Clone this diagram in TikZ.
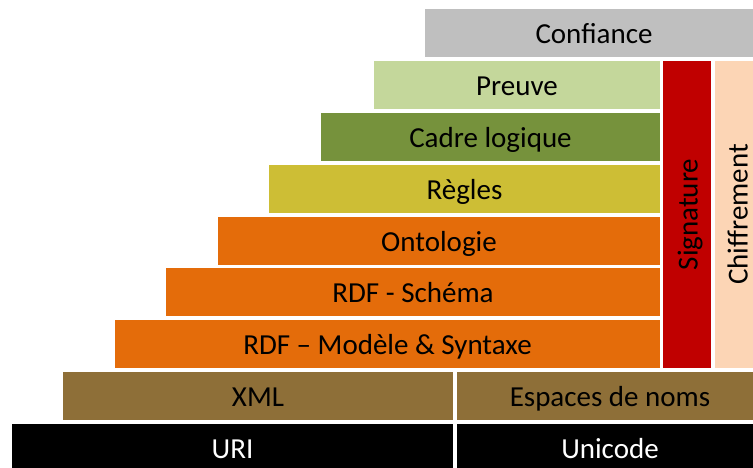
\documentclass[tikz,border=0pt]{standalone}
\usepackage{fontspec}
\setmainfont{Carlito}
\usepackage{tikz}
\usetikzlibrary{positioning}
\definecolor{confiance}{RGB}{191,191,191}
\definecolor{preuve}{RGB}{196,215,155}
\definecolor{logique}{RGB}{118,146,60}
\definecolor{regles}{RGB}{205,190,53}
\definecolor{rdf}{RGB}{228,108,10}
\definecolor{signat}{RGB}{192,0,0}
\definecolor{chiffre}{RGB}{252,213,181}
\definecolor{brun}{RGB}{142,111,56}

\tikzset{
  txt/.style={inner sep=0pt, outer sep=0pt, font=\fontsize{29}{32}\selectfont},
  layer/.style={rectangle, txt, text height=26pt, text depth=5pt,
    anchor=north west, minimum height=48pt},
  side/.style={rectangle, txt, text height=21pt, text depth=0pt,
    rotate=90, minimum width=307pt, minimum height=48pt},
}

\begin{document}
\begin{tikzpicture}[x=1pt,y=-1pt]
  \useasboundingbox (0,0) rectangle (753,468);
  \begin{scope}
    \clip (0,0) rectangle (753,468);
    % stairs
    \node[layer, fill=confiance, minimum width=338pt] (conf) at (425,9) {Confiance};
    \node[layer, fill=preuve, minimum width=286pt] (preuve) at (374,61) {Preuve};
    \node[layer, fill=logique, minimum width=339pt] (cadre) at (321,113) {Cadre logique};
    \node[layer, fill=regles, minimum width=391pt] (regles) at (269,165) {Règles};
    \node[layer, fill=rdf, minimum width=442pt] (onto) at (218,217) {Ontologie};
    \node[layer, fill=rdf, minimum width=494pt] (schema) at (166,268) {RDF - Schéma};
    \node[layer, fill=rdf, minimum width=545pt] (modele) at (115,320) {RDF – Modèle \& Syntaxe};
    % base
    \node[layer, fill=brun, minimum width=390pt] (xml) at (63,372) {XML};
    \node[layer, fill=brun, minimum width=306pt] (ns) at (457,372) {Espaces de noms};
    \node[layer, fill=black, text=white, minimum width=441pt] (uri) at (12,424) {URI};
    \node[layer, fill=black, text=white, minimum width=306pt] (unicode) at (457,424) {Unicode};
    % side columns
    \node[side, fill=signat] (sign) at (687,214.5) {Signature};
    \node[side, fill=chiffre, text height=17pt] (chiff) at (739,214.5) {Chiffrement};
  \end{scope}
\end{tikzpicture}
\end{document}
